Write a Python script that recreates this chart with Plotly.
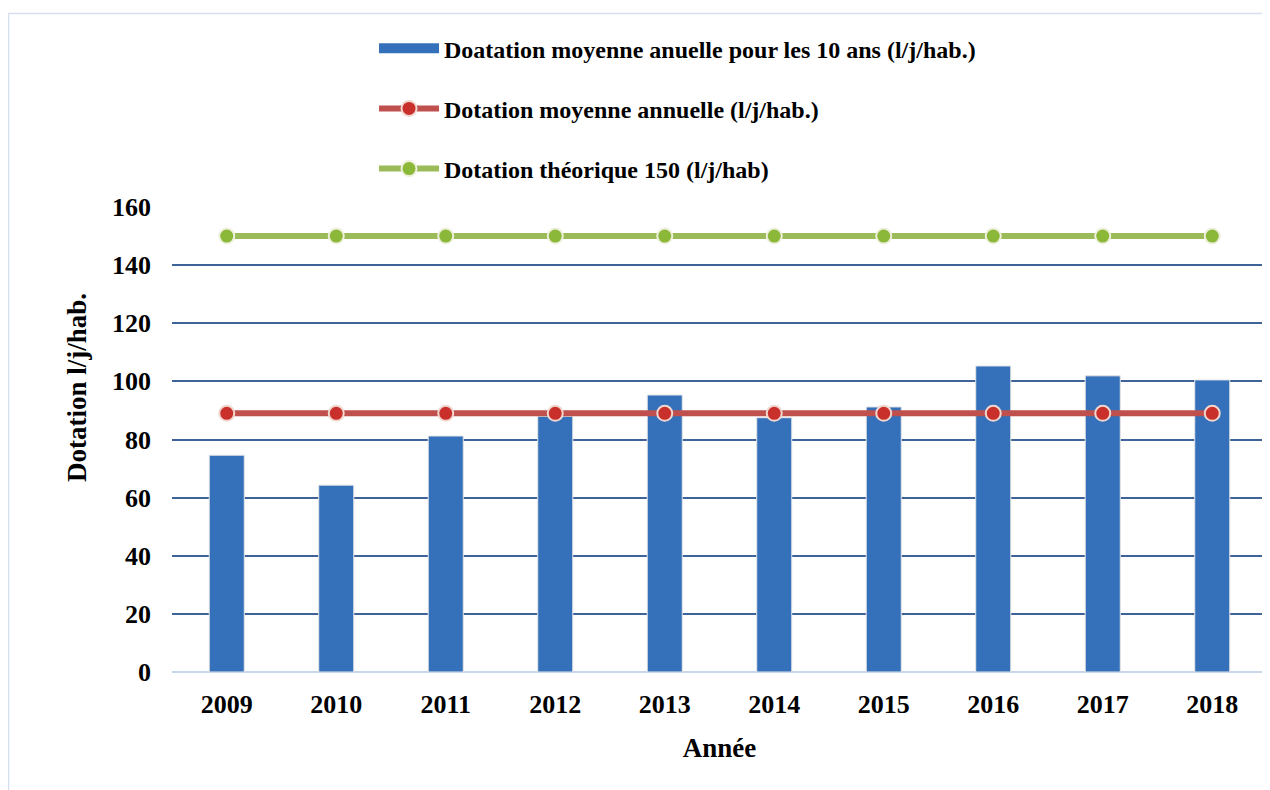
import plotly.graph_objects as go

years = ["2009", "2010", "2011", "2012", "2013", "2014", "2015", "2016", "2017", "2018"]
dotation_annuelle = [74.6, 64.3, 81.2, 88.0, 95.3, 87.5, 91.2, 105.3, 101.9, 100.5]
moyenne_10ans = [89.0] * 10
theorique = [150] * 10

FONT = "Liberation Serif"
BAR_COLOR = "#3570ba"

fig = go.Figure()

fig.add_trace(go.Bar(
    x=years, y=dotation_annuelle,
    name="Doatation moyenne anuelle pour les 10 ans (l/j/hab.)",
    marker=dict(color=BAR_COLOR, line=dict(color="#e6e6e6", width=1)),
    showlegend=False,
))
# legend entry for the bars (wide rectangle swatch)
fig.add_trace(go.Scatter(
    x=[years[0]], y=[None], mode="lines",
    name="Doatation moyenne anuelle pour les 10 ans (l/j/hab.)",
    line=dict(color=BAR_COLOR, width=13),
    legendgroup="a", hoverinfo="skip",
))
fig.add_trace(go.Scatter(
    x=years, y=moyenne_10ans, mode="lines+markers",
    name="Dotation moyenne annuelle (l/j/hab.)",
    line=dict(color="#c0504d", width=6),
    marker=dict(color="#c9302c", size=15, line=dict(color="#f0d8d0", width=2)),
    legendgroup="b",
))
fig.add_trace(go.Scatter(
    x=years, y=theorique, mode="lines+markers",
    name="Dotation théorique 150 (l/j/hab)",
    line=dict(color="#9bbb59", width=6),
    marker=dict(color="#8cb83a", size=15, line=dict(color="#eef0dc", width=2)),
    legendgroup="c",
))

fig.update_layout(
    width=1262, height=782,
    margin=dict(l=164, r=3, t=199, b=118, autoexpand=False),
    paper_bgcolor="white", plot_bgcolor="white",
    font=dict(family=FONT, color="black"),
    bargap=0.68,
    showlegend=True,
    legend=dict(
        orientation="v", x=0.1845, xanchor="left", y=1.389, yanchor="top",
        font=dict(family=FONT, size=24, color="black", weight="bold"),
        tracegroupgap=26, itemwidth=60,
        bgcolor="rgba(0,0,0,0)",
    ),
    xaxis=dict(
        type="category", showgrid=False, ticks="",
        categoryorder="array", categoryarray=years,
        range=[-0.5, len(years) - 0.5], autorange=False,
        tickfont=dict(family=FONT, size=26, color="black", weight="bold"),
        ticklabelstandoff=14,
        title=dict(text="<b>Année</b>", font=dict(family=FONT, size=27, color="black"), standoff=20),
        showline=False,
    ),
    yaxis=dict(
        range=[0, 160], dtick=20, showgrid=True,
        gridcolor="#3d6399", gridwidth=2,
        zeroline=True, zerolinecolor="#c8d6ea", zerolinewidth=2,
        tickfont=dict(family=FONT, size=26, color="black", weight="bold"),
        ticklabelstandoff=20,
    ),
    annotations=[dict(
        text="<b>Dotation l/j/hab.</b>", xref="paper", yref="paper",
        x=-0.0868, y=0.613, textangle=-90, showarrow=False,
        xanchor="center", yanchor="middle",
        font=dict(family=FONT, size=27, color="black"),
    )],
    shapes=[dict(
        type="rect", xref="paper", yref="paper",
        x0=-0.1493, x1=1.01, y0=-0.3, y1=1.416,
        line=dict(color="#d5e0ee", width=1.5), fillcolor="rgba(0,0,0,0)", layer="below",
    )],
)

fig.write_html("out.html")
